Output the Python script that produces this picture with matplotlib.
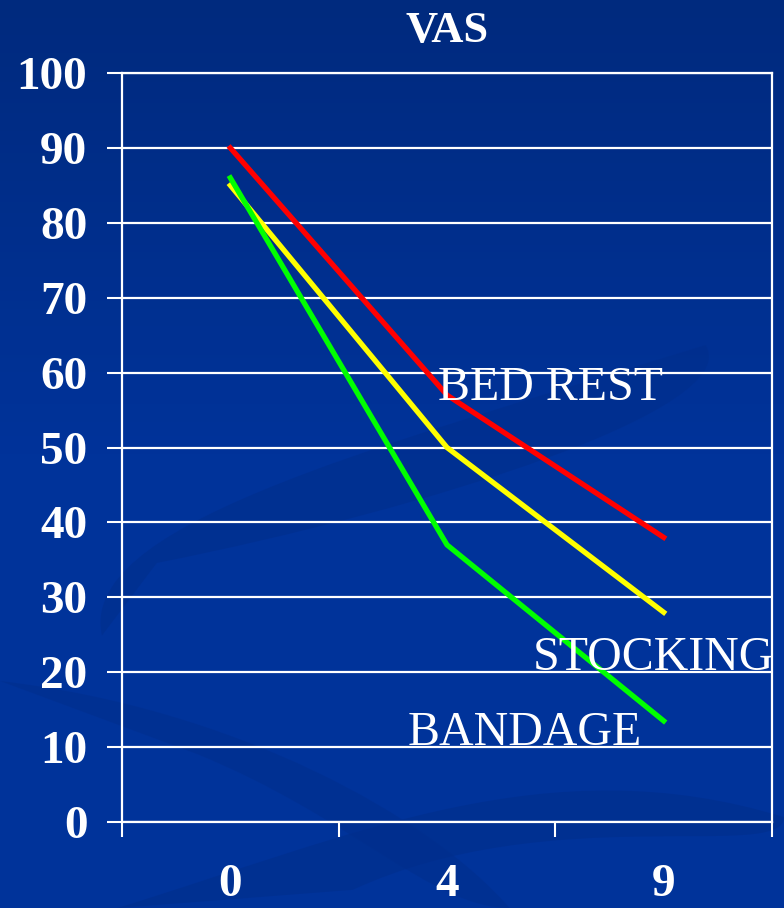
import matplotlib
matplotlib.use("Agg")
import matplotlib.pyplot as plt
from matplotlib.patches import PathPatch
from matplotlib.path import Path
from matplotlib.colors import LinearSegmentedColormap
import numpy as np

# Data
categories = ["0", "4", "9"]
bed_rest = [90, 57, 38]
stocking = [85, 50, 28]
bandage = [86, 37, 13.5]
y_ticks = [0, 10, 20, 30, 40, 50, 60, 70, 80, 90, 100]

BG = "#00339a"
SERIF = ["Liberation Serif", "DejaVu Serif"]

fig = plt.figure(figsize=(7.84, 9.08), dpi=100)
fig.patch.set_facecolor(BG)

# subtle background gradient at top
grad = np.linspace(0, 1, 256).reshape(-1, 1)
bg_ax = fig.add_axes([0, 0, 1, 1], zorder=-10)
cmap = LinearSegmentedColormap.from_list("bg", ["#002a7e", BG, BG])
bg_ax.imshow(grad, aspect="auto", cmap=cmap, extent=[0, 1, 0, 1], origin="upper")
bg_ax.set_xlim(0, 1); bg_ax.set_ylim(0, 1)
bg_ax.axis("off")
# decorative swirl shapes (subtle)
swirl_color = "#002e8c"
codes = [Path.MOVETO, Path.CURVE4, Path.CURVE4, Path.CURVE4,
         Path.CURVE4, Path.CURVE4, Path.CURVE4, Path.CLOSEPOLY]
verts = [(0.13, 0.30), (0.10, 0.42), (0.45, 0.50), (0.90, 0.62),
         (0.95, 0.55), (0.55, 0.44), (0.20, 0.38), (0.13, 0.30)]
bg_ax.add_patch(PathPatch(Path(verts, codes), facecolor=swirl_color, edgecolor="none", alpha=0.6))
verts2 = [(0.15, 0.0), (0.45, 0.08), (0.70, 0.18), (1.0, 0.10),
          (1.0, 0.05), (0.70, 0.12), (0.45, 0.02), (0.15, 0.0)]
bg_ax.add_patch(PathPatch(Path(verts2, codes), facecolor=swirl_color, edgecolor="none", alpha=0.6))
verts3 = [(0.0, 0.25), (0.30, 0.22), (0.55, 0.10), (0.65, 0.0),
          (0.55, 0.0), (0.45, 0.10), (0.25, 0.17), (0.0, 0.25)]
bg_ax.add_patch(PathPatch(Path(verts3, codes), facecolor=swirl_color, edgecolor="none", alpha=0.5))

left, right = 122 / 784, 772 / 784
bottom, top = 1 - 822 / 908, 1 - 73 / 908
ax = fig.add_axes([left, bottom, right - left, top - bottom])
ax.set_facecolor("none")

x = np.arange(len(categories))
ax.plot(x, bed_rest, color="#ff0000", lw=3.8, solid_capstyle="projecting", zorder=3)
ax.plot(x, stocking, color="#ffff00", lw=3.8, solid_capstyle="projecting", zorder=3)
ax.plot(x, bandage, color="#00ff00", lw=3.8, solid_capstyle="projecting", zorder=3)

ax.set_xlim(-0.5, len(categories) - 0.5)
ax.set_ylim(0, 100)

# y axis
ax.set_yticks(y_ticks)
ax.set_yticklabels([str(v) for v in y_ticks], fontfamily=SERIF, fontweight="bold",
                   fontsize=34, color="white")
ax.tick_params(axis="y", length=11, width=1.5, color="white", pad=14, direction="out")
ax.yaxis.grid(True, color="white", lw=1.6)
ax.set_axisbelow(False)

# x axis: boundary ticks, labels centered in categories
ax.set_xticks(np.arange(-0.5, len(categories), 1.0))
ax.set_xticklabels([])
ax.tick_params(axis="x", which="major", length=11, width=1.5, color="white", direction="out")
ax.set_xticks(x, minor=True)
ax.set_xticklabels(categories, minor=True, fontfamily=SERIF, fontweight="bold",
                   fontsize=34, color="white")
ax.tick_params(axis="x", which="minor", length=0, pad=30)

for s in ["left", "right", "bottom", "top"]:
    ax.spines[s].set_color("white")
    ax.spines[s].set_linewidth(1.6)

ax.set_title("VAS", fontfamily=SERIF, fontweight="bold", fontsize=32,
             color="white", pad=22)

# series labels
lab_kw = dict(fontfamily=SERIF, fontsize=34.5, color="white", va="baseline", ha="left", zorder=4)
ax.text(0.958, 56.4, "BED REST", **lab_kw)
ax.text(1.397, 20.3, "STOCKING", clip_on=False, **lab_kw)
ax.text(0.82, 10.3, "BANDAGE", **lab_kw)

fig.savefig("out.png", dpi=100, facecolor=fig.get_facecolor())
